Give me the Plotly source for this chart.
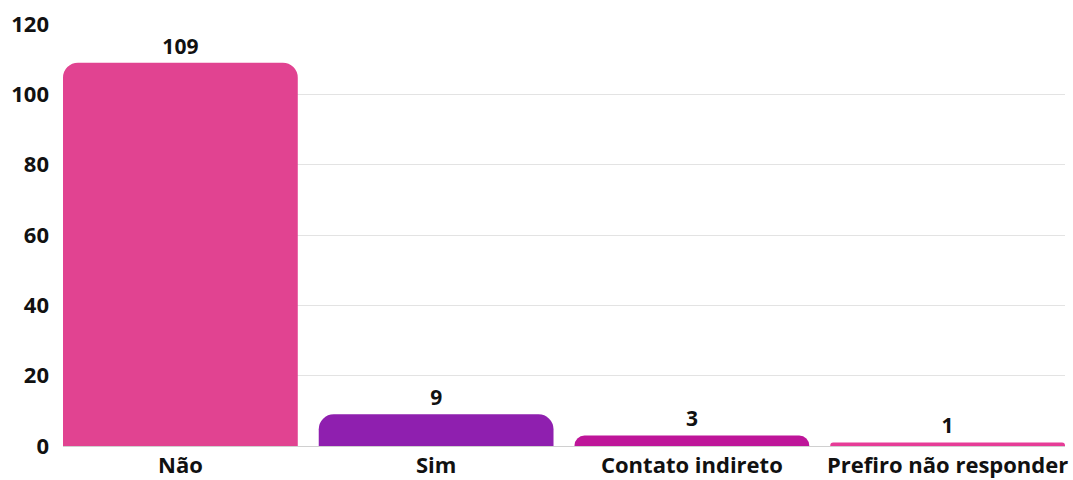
import plotly.graph_objects as go

categories = ["Não", "Sim", "Contato indireto", "Prefiro não responder"]
values = [109, 9, 3, 1]
colors = ["#E14391", "#8F1FAF", "#BE1599", "#E63C97"]
tick_vals = [0, 20, 40, 60, 80, 100, 120]

bar_w = 0.918

fig = go.Figure(go.Bar(
    x=categories, y=values,
    marker=dict(color=colors, cornerradius=15, line=dict(width=0)),
    text=[str(v) for v in values], textposition="outside",
    textfont=dict(family="Open Sans", size=21, color="#111111", weight="bold"),
    cliponaxis=False,
    width=bar_w,
))
fig.update_layout(
    width=1073, height=480,
    margin=dict(l=63, r=8, t=24, b=34),
    plot_bgcolor="white", paper_bgcolor="white",
    showlegend=False,
    font=dict(family="Open Sans", size=20, color="#111111", weight="bold"),
)
fig.update_yaxes(range=[0, 120], tickvals=tick_vals, gridcolor="#E3E3E3",
                 showline=False, zeroline=False, ticks="", automargin=False,
                 ticklabelstandoff=13,
                 tickfont=dict(size=22, family="Open Sans", weight="bold"))
fig.update_xaxes(range=[-bar_w / 2, len(categories) - 1 + bar_w / 2],
                 showline=True, linecolor="#D0D0D0", linewidth=1, automargin=False,
                 tickfont=dict(size=22, family="Open Sans", weight="bold"))
fig.write_html("out.html", config={"displayModeBar": False},
               post_script="document.body.style.margin='0';")
